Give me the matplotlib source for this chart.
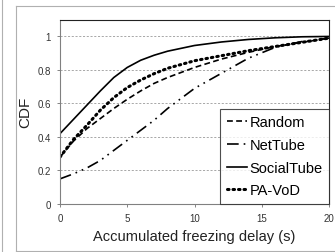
import matplotlib
matplotlib.use("Agg")
import matplotlib.pyplot as plt
from matplotlib.lines import Line2D

plt.rcParams['font.family'] = ['Liberation Sans', 'DejaVu Sans']

# data
x_vals = [0, 1, 2, 3, 4, 5, 6, 7, 8, 10, 12, 14, 16, 18, 20]
random_cdf = [0.28, 0.375, 0.45, 0.51, 0.57, 0.625, 0.675, 0.72, 0.755, 0.815, 0.865, 0.905, 0.94, 0.965, 0.99]
nettube_cdf = [0.15, 0.18, 0.215, 0.26, 0.32, 0.38, 0.44, 0.50, 0.57, 0.69, 0.78, 0.87, 0.935, 0.97, 0.99]
socialtube_cdf = [0.42, 0.505, 0.59, 0.675, 0.755, 0.815, 0.858, 0.888, 0.912, 0.946, 0.967, 0.982, 0.992, 0.998, 1.0]
pavod_cdf = [0.28, 0.385, 0.47, 0.56, 0.635, 0.695, 0.74, 0.778, 0.81, 0.855, 0.885, 0.915, 0.94, 0.965, 0.99]
series_labels = ['Random', 'NetTube', 'SocialTube', 'PA-VoD']
x_ticks = [0, 5, 10, 15, 20]
y_ticks = [0, 0.2, 0.4, 0.6, 0.8, 1.0]
y_ticklabels = ['0', '0.2', '0.4', '0.6', '0.8', '1']

fig = plt.figure(figsize=(3.35, 2.53), dpi=100)
ax = fig.add_axes([60/335, 48/253, 269/335, 184.3/253])

# outer decorative frame
fig.add_artist(Line2D([16/335, 16/335], [0, 1 - 7/253], transform=fig.transFigure, color='#b0b0b0', lw=0.8))
fig.add_artist(Line2D([16/335, 1], [1 - 7/253, 1 - 7/253], transform=fig.transFigure, color='#b0b0b0', lw=0.8))
fig.add_artist(Line2D([16/335, 1], [1/253, 1/253], transform=fig.transFigure, color='#b0b0b0', lw=0.8))
fig.add_artist(Line2D([1.5/335, 1.5/335], [0, 1], transform=fig.transFigure, color='#b0b0b0', lw=0.8))

for yv in y_ticks[1:]:
    ax.axhline(yv, color='#9a9a9a', lw=0.6, ls=(0, (2.5, 2)), zorder=0)

ax.plot(x_vals, random_cdf, color='black', lw=1.2, ls=(0, (3.5, 2)), label=series_labels[0])
ax.plot(x_vals, nettube_cdf, color='black', lw=1.2, ls=(0, (7, 3, 1, 3, 1, 3)), label=series_labels[1])
ax.plot(x_vals, socialtube_cdf, color='black', lw=1.2, ls='-', label=series_labels[2])
ax.plot(x_vals, pavod_cdf, color='black', lw=2.2, ls=(0, (0.5, 1.3)), dash_capstyle='round', label=series_labels[3])

ax.set_xlim(0, 20)
ax.set_ylim(0, 1.1)
ax.set_xticks(x_ticks)
ax.set_xticklabels([str(v) for v in x_ticks])
ax.set_yticks(y_ticks)
ax.set_yticklabels(y_ticklabels)
ax.tick_params(axis='both', direction='out', length=2.5, width=0.6, colors='#707070',
               labelcolor='#333333', labelsize=7, pad=4)

for s in ['left', 'bottom']:
    ax.spines[s].set_color('#808080')
    ax.spines[s].set_linewidth(0.8)
for s in ['top', 'right']:
    ax.spines[s].set_color('#222222')
    ax.spines[s].set_linewidth(0.8)

ax.set_xlabel('Accumulated freezing delay (s)', fontsize=10.5, color='#222222', labelpad=4)
ax.set_ylabel('CDF', fontsize=11, color='#222222', labelpad=4)

leg = ax.legend(loc='lower right', fontsize=10.5, frameon=True, fancybox=False, borderaxespad=0,
                handlelength=1.4, handletextpad=0.15, labelspacing=0.6, borderpad=0.45)
leg.get_frame().set_edgecolor('#222222')
leg.get_frame().set_linewidth(0.8)

fig.savefig('out.png', dpi=100)
